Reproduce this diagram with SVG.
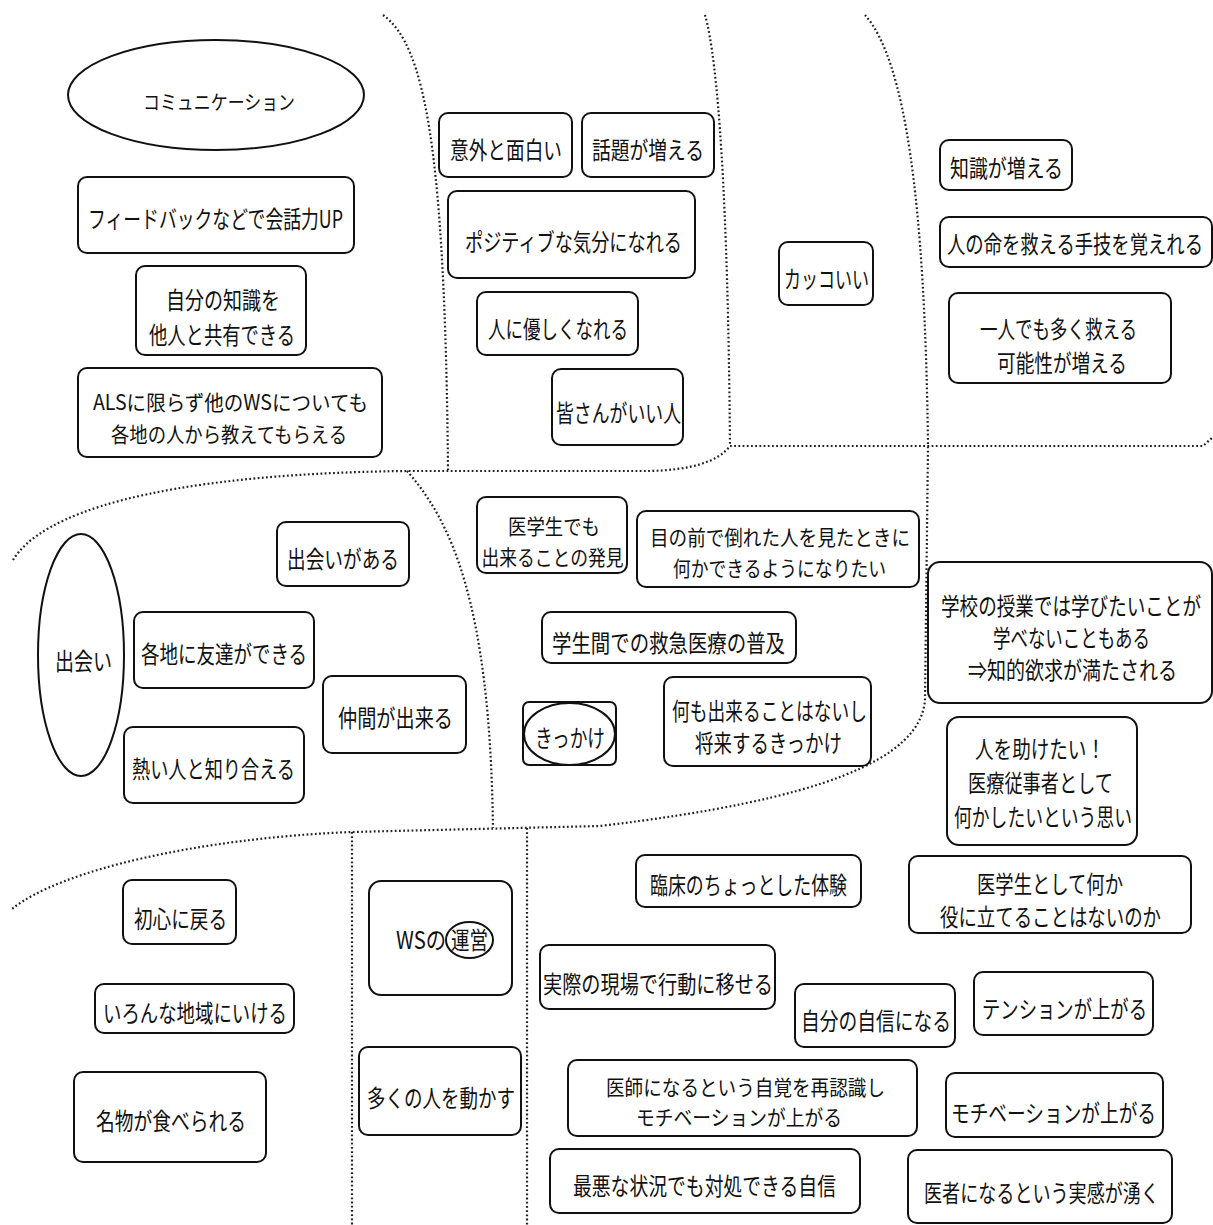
<svg xmlns="http://www.w3.org/2000/svg" width="1213" height="1225" viewBox="0 0 1213 1225">
<style>
.n rect, .n ellipse {fill:#fff; stroke:#111; stroke-width:2}
.n .inner {fill:none}
text {font-family:"Noto Sans CJK JP","Noto Sans",sans-serif; font-size:24px; fill:#111; text-anchor:middle; dominant-baseline:central}
.s {font-size:20px}
.t {font-size:21px}
.d {fill:none; stroke:#222; stroke-width:2.2; stroke-dasharray:1.8 2.4}
</style>
<rect width="1213" height="1225" fill="#fff"/>
<g id="connectors">
<path class="d" d="M383,15 C425,45 445,150 448,470"/>
<path class="d" d="M705,15 C718,60 728,200 730,446"/>
<path class="d" d="M730,446 L1203,446 L1213,437"/>
<path class="d" d="M13,560 C40,515 150,474 407,471 L650,471 C690,470 718,462 730,446"/>
<path class="d" d="M865,15 C905,60 925,200 928,446 L925,700 C920,760 820,800 600,826 L352,832 C200,838 60,870 12,909"/>
<path class="d" d="M407,471 C450,520 490,600 493,828"/>
<path class="d" d="M352,832 L352,1225"/>
<path class="d" d="M527,828 L527,1225"/>
</g>
<g id="n1" class="n"><ellipse cx="216" cy="95" rx="148" ry="55"/><text class="s" x="219" y="101" textLength="152" lengthAdjust="spacingAndGlyphs">コミュニケーション</text></g>
<g id="n2" class="n"><rect x="78" y="177" width="276" height="76" rx="9"/><text x="215.5" y="217" textLength="255" lengthAdjust="spacingAndGlyphs">フィードバックなどで会話力UP</text></g>
<g id="n3" class="n"><rect x="136" y="266" width="170" height="89" rx="9"/><text x="223" y="298" textLength="114" lengthAdjust="spacingAndGlyphs">自分の知識を</text><text x="222" y="333" textLength="146" lengthAdjust="spacingAndGlyphs">他人と共有できる</text></g>
<g id="n4" class="n"><rect x="78" y="368" width="304" height="89" rx="9"/><text class="t" x="230.5" y="401" textLength="275" lengthAdjust="spacingAndGlyphs">ALSに限らず他のWSについても</text><text class="t" x="229" y="433" textLength="236" lengthAdjust="spacingAndGlyphs">各地の人から教えてもらえる</text></g>
<g id="n5" class="n"><rect x="439" y="113" width="133" height="64" rx="9"/><text x="506" y="148" textLength="112" lengthAdjust="spacingAndGlyphs">意外と面白い</text></g>
<g id="n6" class="n"><rect x="582" y="113" width="132" height="64" rx="9"/><text x="648" y="148" textLength="112" lengthAdjust="spacingAndGlyphs">話題が増える</text></g>
<g id="n7" class="n"><rect x="448" y="191" width="247" height="87" rx="9"/><text x="573.5" y="240" textLength="217" lengthAdjust="spacingAndGlyphs">ポジティブな気分になれる</text></g>
<g id="n8" class="n"><rect x="477" y="292" width="161" height="63" rx="9"/><text x="558" y="327" textLength="140" lengthAdjust="spacingAndGlyphs">人に優しくなれる</text></g>
<g id="n9" class="n"><rect x="552" y="369" width="131" height="76" rx="9"/><text x="618.5" y="411" textLength="125" lengthAdjust="spacingAndGlyphs">皆さんがいい人</text></g>
<g id="n10" class="n"><rect x="779" y="242" width="94" height="63" rx="9"/><text x="826.5" y="277" textLength="85" lengthAdjust="spacingAndGlyphs">カッコいい</text></g>
<g id="n11" class="n"><rect x="940" y="140" width="132" height="50" rx="9"/><text x="1006.5" y="166" textLength="113" lengthAdjust="spacingAndGlyphs">知識が増える</text></g>
<g id="n12" class="n"><rect x="940" y="217" width="272" height="50" rx="9"/><text x="1075" y="242" font-size="19" textLength="256" lengthAdjust="spacingAndGlyphs">人の命を救える手技を覚えれる</text></g>
<g id="n13" class="n"><rect x="949" y="293" width="222" height="90" rx="9"/><text x="1058.5" y="327" textLength="157" lengthAdjust="spacingAndGlyphs">一人でも多く救える</text><text x="1062" y="361" textLength="130" lengthAdjust="spacingAndGlyphs">可能性が増える</text></g>
<g id="n14" class="n"><ellipse cx="81" cy="655" rx="43" ry="121"/><text x="83.5" y="659" font-size="22" textLength="57" lengthAdjust="spacingAndGlyphs">出会い</text></g>
<g id="n15" class="n"><rect x="277" y="522" width="132" height="64" rx="9"/><text x="343" y="557" textLength="112" lengthAdjust="spacingAndGlyphs">出会いがある</text></g>
<g id="n16" class="n"><rect x="134" y="612" width="180" height="76" rx="9"/><text x="224" y="652" textLength="166" lengthAdjust="spacingAndGlyphs">各地に友達ができる</text></g>
<g id="n17" class="n"><rect x="323" y="676" width="143" height="77" rx="9"/><text x="395.5" y="716" textLength="115" lengthAdjust="spacingAndGlyphs">仲間が出来る</text></g>
<g id="n18" class="n"><rect x="124" y="727" width="180" height="76" rx="9"/><text x="213.5" y="767" textLength="163" lengthAdjust="spacingAndGlyphs">熱い人と知り合える</text></g>
<g id="n19" class="n"><rect x="477" y="497" width="150" height="76" rx="9"/><text class="t" x="554" y="525" textLength="92" lengthAdjust="spacingAndGlyphs">医学生でも</text><text class="t" x="552.5" y="556" textLength="142" lengthAdjust="spacingAndGlyphs">出来ることの発見</text></g>
<g id="n20" class="n"><rect x="637" y="511" width="282" height="76" rx="9"/><text class="t" x="780" y="536" textLength="260" lengthAdjust="spacingAndGlyphs">目の前で倒れた人を見たときに</text><text class="t" x="779.5" y="567" textLength="213" lengthAdjust="spacingAndGlyphs">何かできるようになりたい</text></g>
<g id="n21" class="n"><rect x="542" y="612" width="254" height="51" rx="9"/><text x="668.5" y="641" textLength="233" lengthAdjust="spacingAndGlyphs">学生間での救急医療の普及</text></g>
<g id="n22" class="n"><rect x="523" y="702" width="93" height="63" rx="6"/><ellipse class="inner" cx="569.5" cy="734" rx="45.5" ry="31"/><text x="570" y="736" font-size="21" textLength="70" lengthAdjust="spacingAndGlyphs">きっかけ</text></g>
<g id="n23" class="n"><rect x="664" y="677" width="207" height="89" rx="9"/><text x="769.5" y="709" textLength="195" lengthAdjust="spacingAndGlyphs">何も出来ることはないし</text><text x="768.5" y="741" textLength="147" lengthAdjust="spacingAndGlyphs">将来するきっかけ</text></g>
<g id="n24" class="n"><rect x="928" y="562" width="284" height="141" rx="12"/><text x="1071" y="604" font-size="19" textLength="260" lengthAdjust="spacingAndGlyphs">学校の授業では学びたいことが</text><text x="1071.5" y="636" textLength="157" lengthAdjust="spacingAndGlyphs">学べないこともある</text><text x="1072.5" y="668" font-size="21" textLength="209" lengthAdjust="spacingAndGlyphs">⇒知的欲求が満たされる</text></g>
<g id="n25" class="n"><rect x="947" y="717" width="190" height="128" rx="12"/><text x="1040" y="747" textLength="130" lengthAdjust="spacingAndGlyphs">人を助けたい！</text><text x="1040.5" y="781" textLength="145" lengthAdjust="spacingAndGlyphs">医療従事者として</text><text x="1043" y="815" textLength="178" lengthAdjust="spacingAndGlyphs">何かしたいという思い</text></g>
<g id="n26" class="n"><rect x="123" y="880" width="113" height="64" rx="9"/><text x="180.5" y="917" textLength="93" lengthAdjust="spacingAndGlyphs">初心に戻る</text></g>
<g id="n27" class="n"><rect x="95" y="984" width="199" height="49" rx="9"/><text x="195" y="1011" textLength="184" lengthAdjust="spacingAndGlyphs">いろんな地域にいける</text></g>
<g id="n28" class="n"><rect x="74" y="1072" width="192" height="90" rx="9"/><text x="171" y="1119" textLength="150" lengthAdjust="spacingAndGlyphs">名物が食べられる</text></g>
<g id="n29" class="n"><rect x="369" y="881" width="143" height="114" rx="12"/><ellipse class="inner" cx="469.5" cy="940" rx="23.5" ry="18"/><text x="421" y="938" font-size="21" textLength="50" lengthAdjust="spacingAndGlyphs">WSの</text><text x="469.5" y="938" font-size="21" textLength="37" lengthAdjust="spacingAndGlyphs">運営</text></g>
<g id="n30" class="n"><rect x="359" y="1047" width="162" height="88" rx="9"/><text x="441" y="1096" textLength="148" lengthAdjust="spacingAndGlyphs">多くの人を動かす</text></g>
<g id="n31" class="n"><rect x="636" y="855" width="225" height="52" rx="9"/><text x="748.5" y="883" textLength="197" lengthAdjust="spacingAndGlyphs">臨床のちょっとした体験</text></g>
<g id="n32" class="n"><rect x="909" y="856" width="282" height="77" rx="9"/><text x="1050" y="882" textLength="146" lengthAdjust="spacingAndGlyphs">医学生として何か</text><text x="1050.5" y="915" textLength="221" lengthAdjust="spacingAndGlyphs">役に立てることはないのか</text></g>
<g id="n33" class="n"><rect x="540" y="945" width="235" height="64" rx="9"/><text x="658" y="982" textLength="230" lengthAdjust="spacingAndGlyphs">実際の現場で行動に移せる</text></g>
<g id="n34" class="n"><rect x="795" y="984" width="160" height="63" rx="9"/><text x="876" y="1019" textLength="150" lengthAdjust="spacingAndGlyphs">自分の自信になる</text></g>
<g id="n35" class="n"><rect x="974" y="972" width="179" height="63" rx="9"/><text x="1064.5" y="1007" textLength="165" lengthAdjust="spacingAndGlyphs">テンションが上がる</text></g>
<g id="n36" class="n"><rect x="568" y="1060" width="349" height="76" rx="9"/><text class="t" x="745.5" y="1086" textLength="279" lengthAdjust="spacingAndGlyphs">医師になるという自覚を再認識し</text><text class="t" x="739" y="1116" textLength="206" lengthAdjust="spacingAndGlyphs">モチベーションが上がる</text></g>
<g id="n37" class="n"><rect x="946" y="1073" width="217" height="64" rx="9"/><text x="1053.5" y="1111" textLength="205" lengthAdjust="spacingAndGlyphs">モチベーションが上がる</text></g>
<g id="n38" class="n"><rect x="550" y="1149" width="310" height="64" rx="9"/><text x="704.5" y="1184" textLength="263" lengthAdjust="spacingAndGlyphs">最悪な状況でも対処できる自信</text></g>
<g id="n39" class="n"><rect x="908" y="1150" width="264" height="73" rx="9"/><text x="1041.5" y="1191" textLength="235" lengthAdjust="spacingAndGlyphs">医者になるという実感が湧く</text></g>
</svg>
